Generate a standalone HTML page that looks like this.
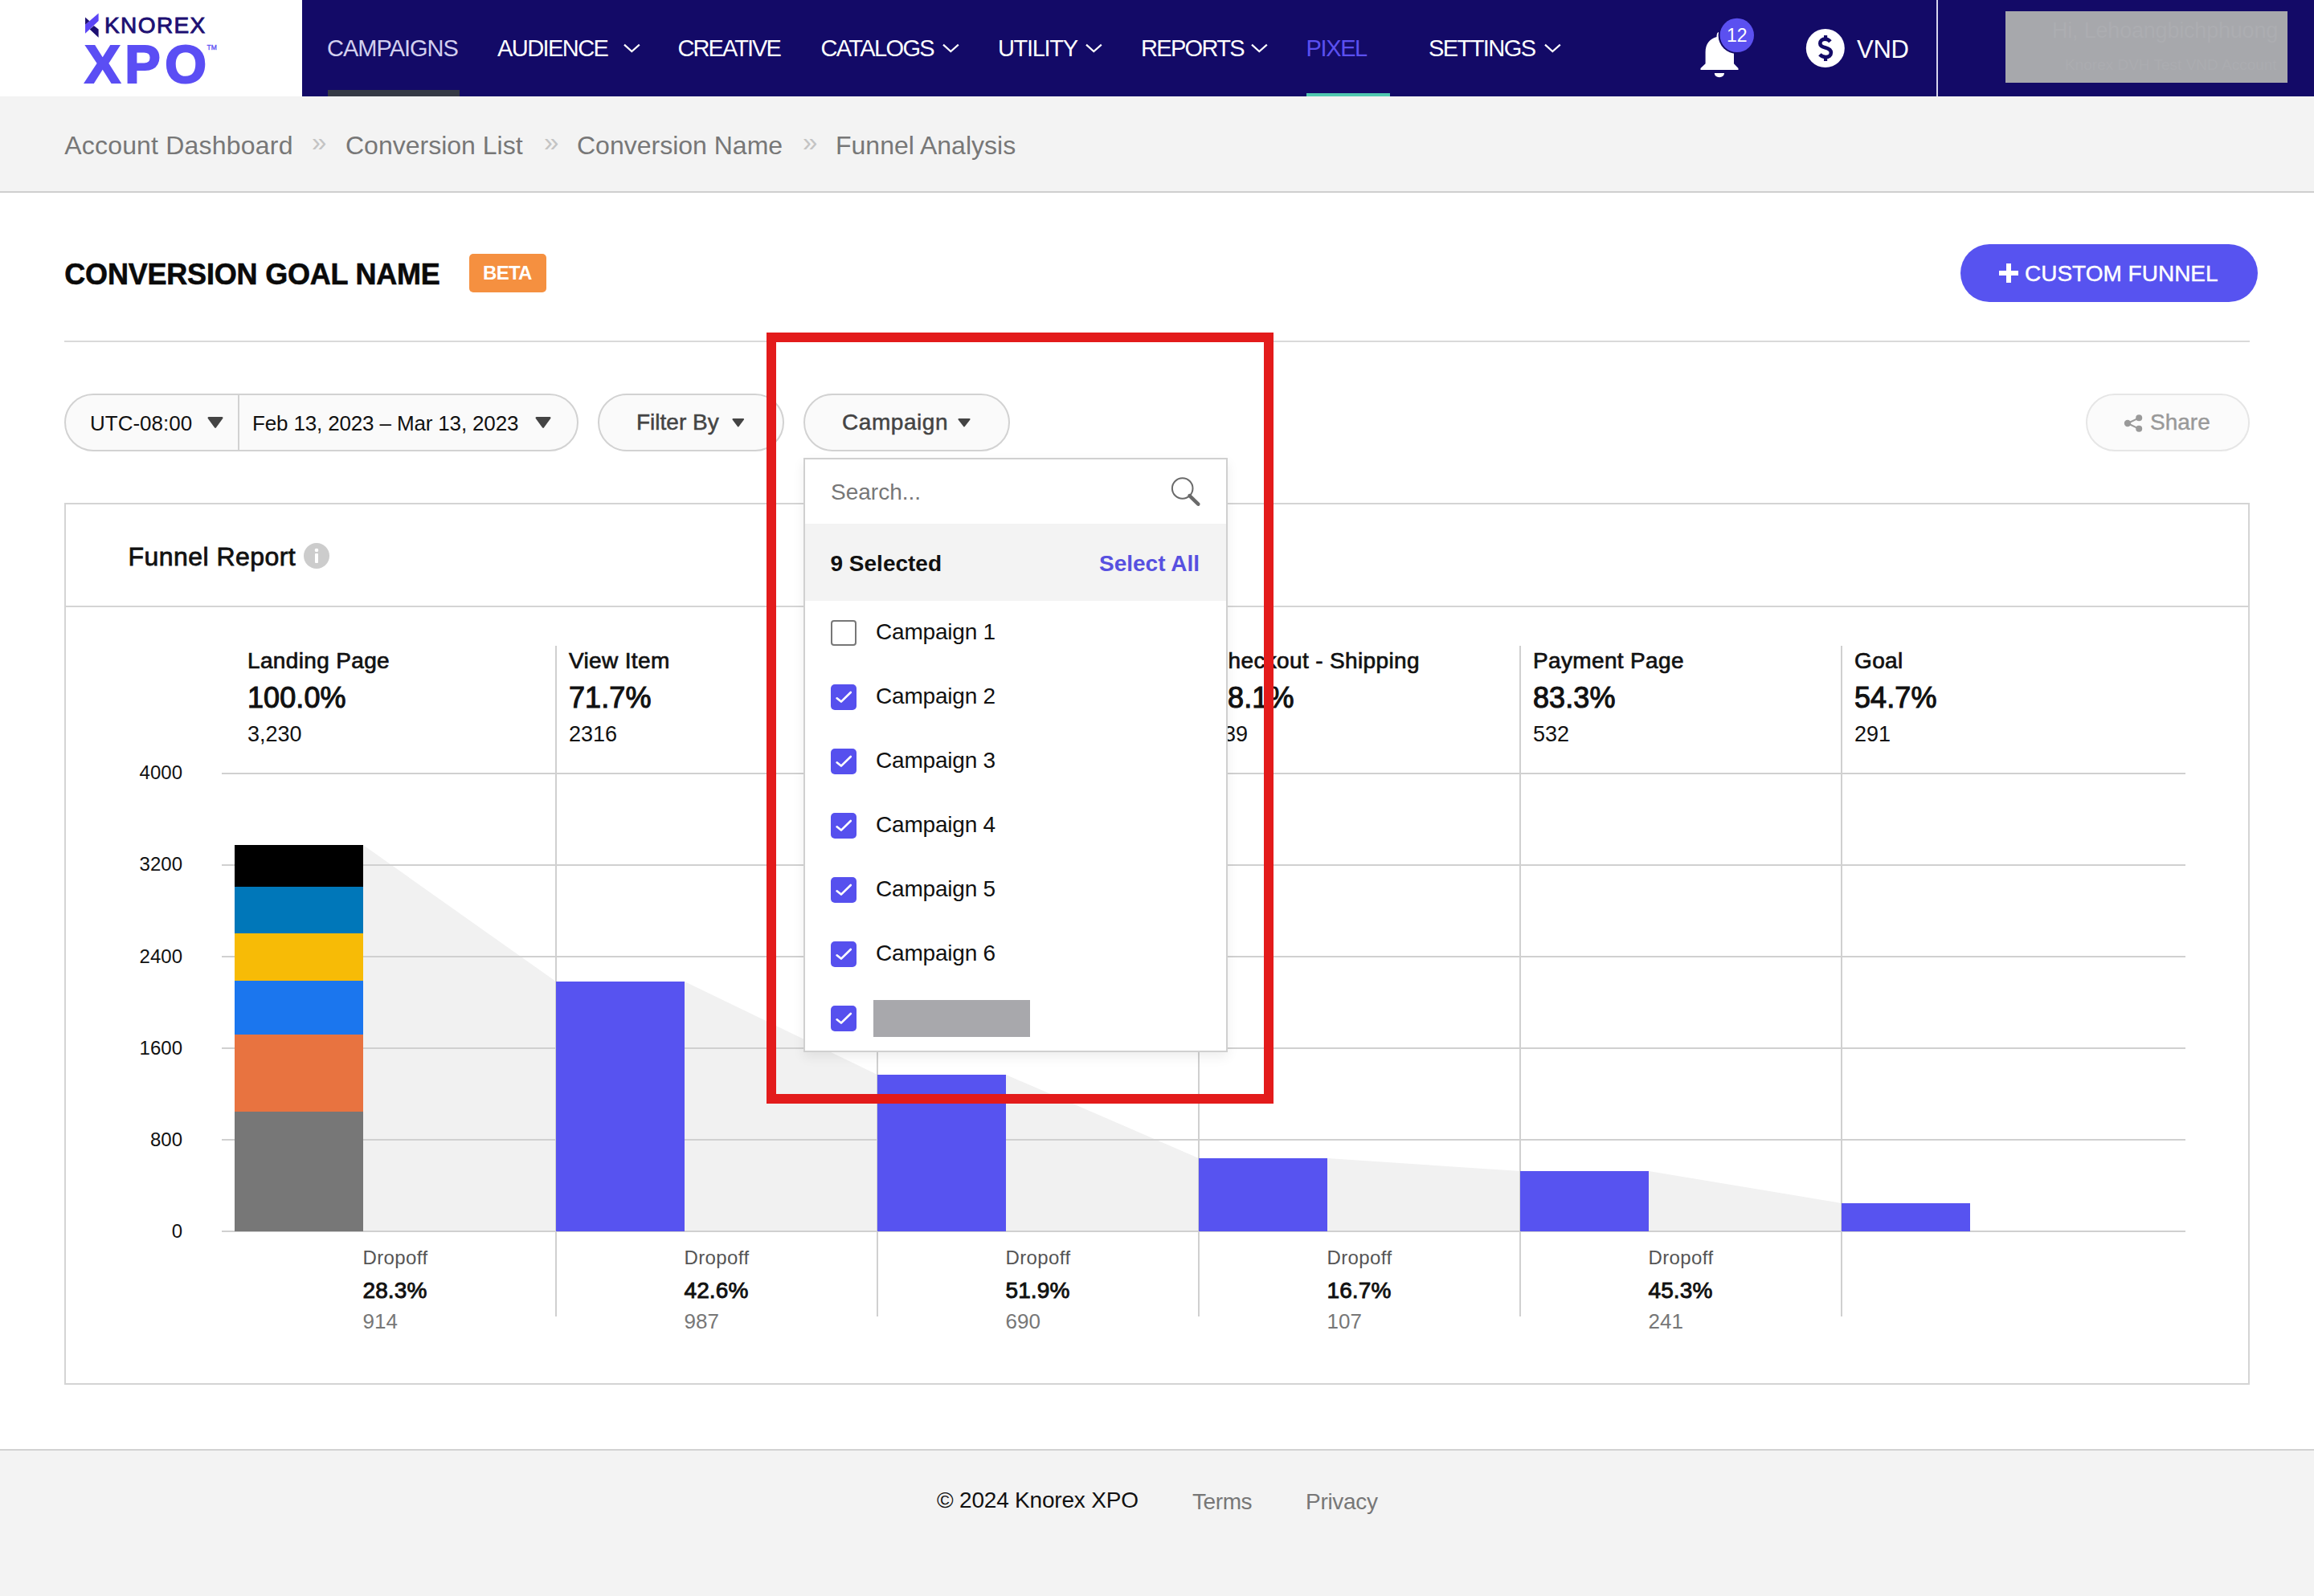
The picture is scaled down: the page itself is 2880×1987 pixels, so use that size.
<!DOCTYPE html>
<html><head><meta charset="utf-8"><title>Funnel Analysis</title>
<style>
html,body{margin:0;padding:0;width:2880px;height:1987px;overflow:hidden;background:#fff;}
body{position:relative;font-family:"Liberation Sans",sans-serif;}
.t{position:absolute;line-height:1;white-space:nowrap;}
.r{position:absolute;box-sizing:content-box;display:block;}
</style></head><body>
<div class="r" style="left:0px;top:0px;width:376px;height:120px;background:#ffffff;"></div>
<div class="r" style="left:376px;top:0px;width:2504px;height:120px;background:#130a67;"></div>
<svg class="r" style="left:100px;top:10px;" width="30" height="45" viewBox="0 0 30 45"><polygon points="6.05,20.74 22.64,6.4 22.64,15.9 6.05,31.8" fill="#5b45f6"/><polygon points="6.05,11.4 11.4,16.25 6.05,20.74" fill="#1d0f72"/><polygon points="11.75,26.6 16.9,21.95 22.64,26.6 22.64,36.8" fill="#1d0f72"/></svg>
<div class="t " style="left:130.0px;top:17.5px;font-size:28px;color:#1d0f72;font-weight:normal;letter-spacing:1.4px;-webkit-text-stroke:0.9px #1d0f72;">KNOREX</div>
<div class="t " style="left:105.5px;top:46.5px;font-size:66.5px;color:#5b4ef4;font-weight:bold;letter-spacing:5.5px;-webkit-text-stroke:2.2px #5b4ef4;">XPO</div>
<div class="t " style="left:257.5px;top:55.3px;font-size:8.5px;color:#5b4ef4;font-weight:normal;-webkit-text-stroke:0.3px #5b4ef4;">TM</div>
<div class="t " style="left:407.0px;top:46.4px;font-size:29px;color:#d2cfee;font-weight:normal;letter-spacing:-1px;">CAMPAIGNS</div>
<div class="t " style="left:619.0px;top:46.4px;font-size:29px;color:#fff;font-weight:normal;letter-spacing:-1.57px;">AUDIENCE</div>
<div class="t " style="left:843.5px;top:46.4px;font-size:29px;color:#fff;font-weight:normal;letter-spacing:-1.93px;">CREATIVE</div>
<div class="t " style="left:1021.5px;top:46.4px;font-size:29px;color:#fff;font-weight:normal;letter-spacing:-1.64px;">CATALOGS</div>
<div class="t " style="left:1242.0px;top:46.4px;font-size:29px;color:#fff;font-weight:normal;letter-spacing:-1.33px;">UTILITY</div>
<div class="t " style="left:1420.0px;top:46.4px;font-size:29px;color:#fff;font-weight:normal;letter-spacing:-1.67px;">REPORTS</div>
<div class="t " style="left:1625.6px;top:46.4px;font-size:29px;color:#5b50f0;font-weight:normal;letter-spacing:-1.4px;">PIXEL</div>
<div class="t " style="left:1778.0px;top:46.4px;font-size:29px;color:#fff;font-weight:normal;letter-spacing:-1.57px;">SETTINGS</div>
<svg class="r" style="left:774.6px;top:50px;" width="24" height="18" viewBox="0 0 24 18"><polyline points="2,5.6 11.3,14 20.8,5.6" fill="none" stroke="#fff" stroke-width="2.2"/></svg>
<svg class="r" style="left:1172px;top:50px;" width="24" height="18" viewBox="0 0 24 18"><polyline points="2,5.6 11.3,14 20.8,5.6" fill="none" stroke="#fff" stroke-width="2.2"/></svg>
<svg class="r" style="left:1350px;top:50px;" width="24" height="18" viewBox="0 0 24 18"><polyline points="2,5.6 11.3,14 20.8,5.6" fill="none" stroke="#fff" stroke-width="2.2"/></svg>
<svg class="r" style="left:1555.5px;top:50px;" width="24" height="18" viewBox="0 0 24 18"><polyline points="2,5.6 11.3,14 20.8,5.6" fill="none" stroke="#fff" stroke-width="2.2"/></svg>
<svg class="r" style="left:1920.6px;top:50px;" width="24" height="18" viewBox="0 0 24 18"><polyline points="2,5.6 11.3,14 20.8,5.6" fill="none" stroke="#fff" stroke-width="2.2"/></svg>
<div class="r" style="left:408px;top:112px;width:164px;height:8px;background:#353a45;"></div>
<div class="r" style="left:1626px;top:116px;width:104px;height:4px;background:#50c8b0;"></div>
<svg class="r" style="left:2116px;top:40px;" width="48" height="57" viewBox="0 0 48 57"><path d="M20.5,6 C20.5,2 21.5,0 23,0 C24.5,0 25.5,2 25.5,6 C35,8 42,15 42,25 L42,39.3 L47.5,45 L47.5,47 L0.5,47 L0.5,45 L6.6,39.3 L6.6,25 C6.6,15 12,8 20.5,6 Z" fill="#fff"/><path d="M17.8,51 L30,51 C30,54 27.5,56.2 23.9,56.2 C20.3,56.2 17.8,54 17.8,51 Z" fill="#fff"/></svg>
<svg class="r" style="left:2136px;top:18px;" width="52" height="52" viewBox="0 0 52 52"><circle cx="25.8" cy="25.9" r="23.2" fill="#130a67"/><circle cx="25.8" cy="25.9" r="21.2" fill="#5b50f0"/></svg>
<div class="t " style="left:2149.0px;top:32.5px;font-size:23px;color:#fff;font-weight:normal;">12</div>
<svg class="r" style="left:2247px;top:35px;" width="50" height="50" viewBox="0 0 50 50"><circle cx="24.8" cy="25" r="24" fill="#fff"/><path d="M31,16.8 C29,14.6 26.8,13.6 24.6,13.6 C20.6,13.6 18.3,15.9 18.3,18.9 C18.3,22.1 21,23.3 24.6,24.3 C28.6,25.4 31.9,26.9 31.9,30.6 C31.9,33.9 29,36.1 25.2,36.1 C22.3,36.1 19.7,34.9 17.9,32.8" fill="none" stroke="#130a67" stroke-width="4.6"/><rect x="23" y="9" width="4.2" height="5.6" fill="#130a67"/><rect x="23" y="35" width="4.2" height="6" fill="#130a67"/></svg>
<div class="t " style="left:2311.0px;top:45.7px;font-size:31px;color:#fff;font-weight:normal;letter-spacing:-0.3px;">VND</div>
<div class="r" style="left:2410px;top:0px;width:2px;height:120px;background:#d6d4ee;"></div>
<div class="r" style="left:2496px;top:14px;width:351px;height:89px;background:#a7a8ac;overflow:hidden;"><div class="t" style="left:58px;top:11px;font-size:27px;color:#acadb1;letter-spacing:-0.2px;">Hi, Lehoangbichphuong</div><div class="t" style="left:74px;top:57px;font-size:19px;color:#abacb0;">Knorex DVH Test VND Account</div></div>
<div class="r" style="left:0px;top:120px;width:2880px;height:118px;background:#f3f3f3;"></div>
<div class="r" style="left:0px;top:238px;width:2880px;height:2px;background:#cfcfcf;"></div>
<div class="t " style="left:80.2px;top:164.8px;font-size:32px;color:#777;font-weight:normal;letter-spacing:0.2px;">Account Dashboard</div>
<div class="t " style="left:430.0px;top:164.8px;font-size:32px;color:#777;font-weight:normal;letter-spacing:0px;">Conversion List</div>
<div class="t " style="left:718.0px;top:164.8px;font-size:32px;color:#777;font-weight:normal;letter-spacing:0px;">Conversion Name</div>
<div class="t " style="left:1040.0px;top:164.8px;font-size:32px;color:#777;font-weight:normal;letter-spacing:0px;">Funnel Analysis</div>
<div class="t " style="left:388.0px;top:160.4px;font-size:33px;color:#c4c4c4;font-weight:normal;">&raquo;</div>
<div class="t " style="left:677.0px;top:160.4px;font-size:33px;color:#c4c4c4;font-weight:normal;">&raquo;</div>
<div class="t " style="left:999.0px;top:160.4px;font-size:33px;color:#c4c4c4;font-weight:normal;">&raquo;</div>
<div class="t " style="left:80.3px;top:324.4px;font-size:36px;color:#0a0a0a;font-weight:bold;letter-spacing:-0.2px;-webkit-text-stroke:0.6px #0a0a0a;">CONVERSION GOAL NAME</div>
<div class="r" style="left:584px;top:316px;width:96px;height:48px;background:#f59040;border-radius:5px;"></div>
<div class="t " style="left:601.0px;top:328.3px;font-size:24px;color:#fff;font-weight:bold;letter-spacing:-0.7px;">BETA</div>
<div class="r" style="left:2440px;top:304px;width:370px;height:72px;background:#5753f0;border-radius:36px;"></div>
<div class="r" style="left:2497px;top:328px;width:6px;height:24px;background:#fff;"></div>
<div class="r" style="left:2488px;top:337px;width:24px;height:6px;background:#fff;"></div>
<div class="t " style="left:2520.0px;top:326.7px;font-size:28px;color:#fff;font-weight:normal;-webkit-text-stroke:0.4px #fff;">CUSTOM FUNNEL</div>
<div class="r" style="left:80px;top:424px;width:2720px;height:2px;background:#d9d9d9;"></div>
<div class="r" style="left:80px;top:490px;width:636px;height:68px;border:2px solid #d2d2d2;background:#fafafa;border-radius:36px;"></div>
<div class="r" style="left:296px;top:492px;width:2px;height:68px;background:#d2d2d2;"></div>
<div class="t " style="left:112.0px;top:513.9px;font-size:26px;color:#111;font-weight:normal;">UTC-08:00</div>
<svg class="r" style="left:257px;top:518px;" width="22" height="16" viewBox="0 0 22 16"><polygon points="2.82,2.3 19.18,2.3 11.0,13.57" fill="#444" stroke="#444" stroke-width="2.6" stroke-linejoin="round"/></svg>
<div class="t " style="left:314.0px;top:513.9px;font-size:26px;color:#111;font-weight:normal;letter-spacing:-0.15px;">Feb 13, 2023 &ndash; Mar 13, 2023</div>
<svg class="r" style="left:665px;top:518px;" width="22" height="16" viewBox="0 0 22 16"><polygon points="2.82,2.3 19.18,2.3 11.0,13.57" fill="#444" stroke="#444" stroke-width="2.6" stroke-linejoin="round"/></svg>
<div class="r" style="left:744px;top:490px;width:228px;height:68px;border:2px solid #d2d2d2;background:#fafafa;border-radius:36px;"></div>
<div class="t " style="left:792.0px;top:512.2px;font-size:28px;color:#444;font-weight:normal;-webkit-text-stroke:0.5px #444;">Filter By</div>
<svg class="r" style="left:909.5px;top:520px;" width="17.5" height="12.5" viewBox="0 0 17.5 12.5"><polygon points="2.4,2.0 15.1,2.0 8.75,10.4" fill="#444" stroke="#444" stroke-width="2.0" stroke-linejoin="round"/></svg>
<div class="r" style="left:1000px;top:490px;width:253px;height:68px;border:2px solid #d2d2d2;background:#fafafa;border-radius:36px;"></div>
<div class="t " style="left:1048.0px;top:512.2px;font-size:28px;color:#444;font-weight:normal;-webkit-text-stroke:0.5px #444;letter-spacing:0.55px;">Campaign</div>
<svg class="r" style="left:1191px;top:520px;" width="18" height="12.5" viewBox="0 0 18 12.5"><polygon points="2.4,2.0 15.6,2.0 9.0,10.4" fill="#444" stroke="#444" stroke-width="2.0" stroke-linejoin="round"/></svg>
<div class="r" style="left:2596px;top:490px;width:200px;height:68px;border:2px solid #e6e6e6;background:#fbfbfb;border-radius:36px;"></div>
<svg class="r" style="left:2643px;top:514px;" width="26" height="26" viewBox="0 0 26 26"><circle cx="5" cy="13" r="4.2" fill="#9a9a9a"/><circle cx="19.2" cy="6.3" r="4" fill="#9a9a9a"/><circle cx="19.2" cy="19.8" r="4" fill="#9a9a9a"/><line x1="5" y1="13" x2="19.2" y2="6.3" stroke="#9a9a9a" stroke-width="2"/><line x1="5" y1="13" x2="19.2" y2="19.8" stroke="#9a9a9a" stroke-width="2"/></svg>
<div class="t " style="left:2676.0px;top:512.2px;font-size:28px;color:#999;font-weight:normal;-webkit-text-stroke:0.4px #999;">Share</div>
<div class="r" style="left:80px;top:626px;width:2716px;height:1094px;border:2px solid #d4d4d4;background:#fff;"></div>
<div class="r" style="left:82px;top:754px;width:2716px;height:2px;background:#d4d4d4;"></div>
<div class="t " style="left:159.5px;top:677.2px;font-size:32px;color:#111;font-weight:normal;-webkit-text-stroke:0.8px #111;letter-spacing:0.45px;">Funnel Report</div>
<svg class="r" style="left:378px;top:676px;" width="32" height="32" viewBox="0 0 32 32"><circle cx="16" cy="16" r="16" fill="#cccccc"/><circle cx="16" cy="9" r="2.3" fill="#fff"/><rect x="14" y="13" width="4" height="12" rx="1" fill="#fff"/></svg>
<svg class="r" style="left:0px;top:0px;" width="2880" height="1987" viewBox="0 0 2880 1987"><polygon points="452,1052 692,1222 692,1533 452,1533" fill="#f1f1f1"/><polygon points="852,1222 1092,1338 1092,1533 852,1533" fill="#f1f1f1"/><polygon points="1252,1338 1492,1442 1492,1533 1252,1533" fill="#f1f1f1"/><polygon points="1652,1442 1892,1458 1892,1533 1652,1533" fill="#f1f1f1"/><polygon points="2052,1458 2292,1498 2292,1533 2052,1533" fill="#f1f1f1"/></svg>
<div class="r" style="left:276px;top:962px;width:2444px;height:2px;background:#d0d0d0;"></div>
<div class="t" style="right:2653.0px;top:950.3px;font-size:24px;color:#111;font-weight:normal;text-align:right;">4000</div>
<div class="r" style="left:276px;top:1076px;width:2444px;height:2px;background:#d0d0d0;"></div>
<div class="t" style="right:2653.0px;top:1064.4px;font-size:24px;color:#111;font-weight:normal;text-align:right;">3200</div>
<div class="r" style="left:276px;top:1190px;width:2444px;height:2px;background:#d0d0d0;"></div>
<div class="t" style="right:2653.0px;top:1178.5px;font-size:24px;color:#111;font-weight:normal;text-align:right;">2400</div>
<div class="r" style="left:276px;top:1304px;width:2444px;height:2px;background:#d0d0d0;"></div>
<div class="t" style="right:2653.0px;top:1292.6px;font-size:24px;color:#111;font-weight:normal;text-align:right;">1600</div>
<div class="r" style="left:276px;top:1418px;width:2444px;height:2px;background:#d0d0d0;"></div>
<div class="t" style="right:2653.0px;top:1406.7px;font-size:24px;color:#111;font-weight:normal;text-align:right;">800</div>
<div class="r" style="left:276px;top:1532px;width:2444px;height:2px;background:#d0d0d0;"></div>
<div class="t" style="right:2653.0px;top:1520.8px;font-size:24px;color:#111;font-weight:normal;text-align:right;">0</div>
<div class="r" style="left:691px;top:804px;width:2px;height:835px;background:#d0d0d0;"></div>
<div class="r" style="left:1091px;top:804px;width:2px;height:835px;background:#d0d0d0;"></div>
<div class="r" style="left:1491px;top:804px;width:2px;height:835px;background:#d0d0d0;"></div>
<div class="r" style="left:1891px;top:804px;width:2px;height:835px;background:#d0d0d0;"></div>
<div class="r" style="left:2291px;top:804px;width:2px;height:835px;background:#d0d0d0;"></div>
<div class="t " style="left:308.0px;top:808.5px;font-size:28px;color:#111;font-weight:normal;-webkit-text-stroke:0.7px #111;letter-spacing:0.35px;">Landing Page</div>
<div class="t " style="left:308.0px;top:851.4px;font-size:36px;color:#111;font-weight:normal;-webkit-text-stroke:1.1px #111;letter-spacing:0.1px;">100.0%</div>
<div class="t " style="left:308.0px;top:901.0px;font-size:27px;color:#111;font-weight:normal;">3,230</div>
<div class="t " style="left:708.0px;top:808.5px;font-size:28px;color:#111;font-weight:normal;-webkit-text-stroke:0.7px #111;letter-spacing:0.35px;">View Item</div>
<div class="t " style="left:708.0px;top:851.4px;font-size:36px;color:#111;font-weight:normal;-webkit-text-stroke:1.1px #111;letter-spacing:0.1px;">71.7%</div>
<div class="t " style="left:708.0px;top:901.0px;font-size:27px;color:#111;font-weight:normal;">2316</div>
<div class="t " style="left:1108.0px;top:808.5px;font-size:28px;color:#111;font-weight:normal;-webkit-text-stroke:0.7px #111;letter-spacing:0.35px;">Add to Cart</div>
<div class="t " style="left:1108.0px;top:851.4px;font-size:36px;color:#111;font-weight:normal;-webkit-text-stroke:1.1px #111;letter-spacing:0.1px;">58.3%</div>
<div class="t " style="left:1108.0px;top:901.0px;font-size:27px;color:#111;font-weight:normal;">1329</div>
<div class="t " style="left:1508.0px;top:808.5px;font-size:28px;color:#111;font-weight:normal;-webkit-text-stroke:0.7px #111;letter-spacing:0.35px;">Checkout - Shipping</div>
<div class="t " style="left:1508.0px;top:851.4px;font-size:36px;color:#111;font-weight:normal;-webkit-text-stroke:1.1px #111;letter-spacing:0.1px;">48.1%</div>
<div class="t " style="left:1508.0px;top:901.0px;font-size:27px;color:#111;font-weight:normal;">639</div>
<div class="t " style="left:1908.0px;top:808.5px;font-size:28px;color:#111;font-weight:normal;-webkit-text-stroke:0.7px #111;letter-spacing:0.35px;">Payment Page</div>
<div class="t " style="left:1908.0px;top:851.4px;font-size:36px;color:#111;font-weight:normal;-webkit-text-stroke:1.1px #111;letter-spacing:0.1px;">83.3%</div>
<div class="t " style="left:1908.0px;top:901.0px;font-size:27px;color:#111;font-weight:normal;">532</div>
<div class="t " style="left:2308.0px;top:808.5px;font-size:28px;color:#111;font-weight:normal;-webkit-text-stroke:0.7px #111;letter-spacing:0.35px;">Goal</div>
<div class="t " style="left:2308.0px;top:851.4px;font-size:36px;color:#111;font-weight:normal;-webkit-text-stroke:1.1px #111;letter-spacing:0.1px;">54.7%</div>
<div class="t " style="left:2308.0px;top:901.0px;font-size:27px;color:#111;font-weight:normal;">291</div>
<div class="r" style="left:292px;top:1052px;width:160px;height:52px;background:#000000;"></div>
<div class="r" style="left:292px;top:1104px;width:160px;height:58px;background:#0077b9;"></div>
<div class="r" style="left:292px;top:1162px;width:160px;height:59px;background:#f7bb06;"></div>
<div class="r" style="left:292px;top:1221px;width:160px;height:67px;background:#1b76ee;"></div>
<div class="r" style="left:292px;top:1288px;width:160px;height:96px;background:#e87340;"></div>
<div class="r" style="left:292px;top:1384px;width:160px;height:149px;background:#777777;"></div>
<div class="r" style="left:692px;top:1222px;width:160px;height:311px;background:#5753f0;"></div>
<div class="r" style="left:1092px;top:1338px;width:160px;height:195px;background:#5753f0;"></div>
<div class="r" style="left:1492px;top:1442px;width:160px;height:91px;background:#5753f0;"></div>
<div class="r" style="left:1892px;top:1458px;width:160px;height:75px;background:#5753f0;"></div>
<div class="r" style="left:2292px;top:1498px;width:160px;height:35px;background:#5753f0;"></div>
<div class="t " style="left:451.5px;top:1554.4px;font-size:24px;color:#555;font-weight:normal;letter-spacing:0.4px;">Dropoff</div>
<div class="t " style="left:451.5px;top:1593.2px;font-size:28px;color:#111;font-weight:normal;-webkit-text-stroke:0.9px #111;letter-spacing:0.1px;">28.3%</div>
<div class="t " style="left:451.5px;top:1632.2px;font-size:26px;color:#777;font-weight:normal;">914</div>
<div class="t " style="left:851.5px;top:1554.4px;font-size:24px;color:#555;font-weight:normal;letter-spacing:0.4px;">Dropoff</div>
<div class="t " style="left:851.5px;top:1593.2px;font-size:28px;color:#111;font-weight:normal;-webkit-text-stroke:0.9px #111;letter-spacing:0.1px;">42.6%</div>
<div class="t " style="left:851.5px;top:1632.2px;font-size:26px;color:#777;font-weight:normal;">987</div>
<div class="t " style="left:1251.5px;top:1554.4px;font-size:24px;color:#555;font-weight:normal;letter-spacing:0.4px;">Dropoff</div>
<div class="t " style="left:1251.5px;top:1593.2px;font-size:28px;color:#111;font-weight:normal;-webkit-text-stroke:0.9px #111;letter-spacing:0.1px;">51.9%</div>
<div class="t " style="left:1251.5px;top:1632.2px;font-size:26px;color:#777;font-weight:normal;">690</div>
<div class="t " style="left:1651.5px;top:1554.4px;font-size:24px;color:#555;font-weight:normal;letter-spacing:0.4px;">Dropoff</div>
<div class="t " style="left:1651.5px;top:1593.2px;font-size:28px;color:#111;font-weight:normal;-webkit-text-stroke:0.9px #111;letter-spacing:0.1px;">16.7%</div>
<div class="t " style="left:1651.5px;top:1632.2px;font-size:26px;color:#777;font-weight:normal;">107</div>
<div class="t " style="left:2051.5px;top:1554.4px;font-size:24px;color:#555;font-weight:normal;letter-spacing:0.4px;">Dropoff</div>
<div class="t " style="left:2051.5px;top:1593.2px;font-size:28px;color:#111;font-weight:normal;-webkit-text-stroke:0.9px #111;letter-spacing:0.1px;">45.3%</div>
<div class="t " style="left:2051.5px;top:1632.2px;font-size:26px;color:#777;font-weight:normal;">241</div>
<div class="r" style="left:0px;top:1804px;width:2880px;height:2px;background:#d2d2d2;"></div>
<div class="r" style="left:0px;top:1806px;width:2880px;height:181px;background:#f3f3f3;"></div>
<div class="t " style="left:1166.0px;top:1854.2px;font-size:28px;color:#111;font-weight:normal;letter-spacing:-0.2px;">&copy; 2024 Knorex XPO</div>
<div class="t " style="left:1484.0px;top:1855.7px;font-size:28px;color:#777;font-weight:normal;letter-spacing:-0.4px;">Terms</div>
<div class="t " style="left:1625.0px;top:1855.7px;font-size:28px;color:#777;font-weight:normal;letter-spacing:-0.3px;">Privacy</div>
<div class="r" style="left:1000px;top:570px;width:524px;height:736px;border:2px solid #d0d0d0;background:#fff;box-shadow:0 6px 14px rgba(0,0,0,0.07);"></div>
<div class="t " style="left:1034.0px;top:598.5px;font-size:28px;color:#777;font-weight:normal;">Search...</div>
<svg class="r" style="left:1450px;top:588px;" width="50" height="50" viewBox="0 0 50 50"><circle cx="21.7" cy="20" r="12.8" fill="none" stroke="#6a6a6a" stroke-width="2"/><line x1="30.5" y1="29.2" x2="41.3" y2="39.6" stroke="#6a6a6a" stroke-width="4.6" stroke-linecap="round"/></svg>
<div class="r" style="left:1002px;top:652px;width:524px;height:96px;background:#f3f3f3;"></div>
<div class="t " style="left:1033.5px;top:687.8px;font-size:28px;color:#111;font-weight:bold;">9 Selected</div>
<div class="t " style="left:1368.0px;top:687.8px;font-size:28px;color:#5750e0;font-weight:bold;">Select All</div>
<div class="r" style="left:1034px;top:772px;width:28px;height:28px;border:2px solid #777;border-radius:4px;background:#fff;"></div>
<div class="t " style="left:1090.0px;top:772.5px;font-size:28px;color:#111;font-weight:normal;letter-spacing:-0.2px;">Campaign 1</div>
<svg class="r" style="left:1034px;top:852px;" width="32" height="32" viewBox="0 0 32 32"><rect x="0" y="0" width="32" height="32" rx="5" fill="#5650ee"/><polyline points="7.6,17.3 12.9,21.6 24.8,10" fill="none" stroke="#fff" stroke-width="2.6" stroke-linecap="round" stroke-linejoin="round"/></svg>
<div class="t " style="left:1090.0px;top:852.5px;font-size:28px;color:#111;font-weight:normal;letter-spacing:-0.2px;">Campaign 2</div>
<svg class="r" style="left:1034px;top:932px;" width="32" height="32" viewBox="0 0 32 32"><rect x="0" y="0" width="32" height="32" rx="5" fill="#5650ee"/><polyline points="7.6,17.3 12.9,21.6 24.8,10" fill="none" stroke="#fff" stroke-width="2.6" stroke-linecap="round" stroke-linejoin="round"/></svg>
<div class="t " style="left:1090.0px;top:932.5px;font-size:28px;color:#111;font-weight:normal;letter-spacing:-0.2px;">Campaign 3</div>
<svg class="r" style="left:1034px;top:1012px;" width="32" height="32" viewBox="0 0 32 32"><rect x="0" y="0" width="32" height="32" rx="5" fill="#5650ee"/><polyline points="7.6,17.3 12.9,21.6 24.8,10" fill="none" stroke="#fff" stroke-width="2.6" stroke-linecap="round" stroke-linejoin="round"/></svg>
<div class="t " style="left:1090.0px;top:1012.5px;font-size:28px;color:#111;font-weight:normal;letter-spacing:-0.2px;">Campaign 4</div>
<svg class="r" style="left:1034px;top:1092px;" width="32" height="32" viewBox="0 0 32 32"><rect x="0" y="0" width="32" height="32" rx="5" fill="#5650ee"/><polyline points="7.6,17.3 12.9,21.6 24.8,10" fill="none" stroke="#fff" stroke-width="2.6" stroke-linecap="round" stroke-linejoin="round"/></svg>
<div class="t " style="left:1090.0px;top:1092.5px;font-size:28px;color:#111;font-weight:normal;letter-spacing:-0.2px;">Campaign 5</div>
<svg class="r" style="left:1034px;top:1172px;" width="32" height="32" viewBox="0 0 32 32"><rect x="0" y="0" width="32" height="32" rx="5" fill="#5650ee"/><polyline points="7.6,17.3 12.9,21.6 24.8,10" fill="none" stroke="#fff" stroke-width="2.6" stroke-linecap="round" stroke-linejoin="round"/></svg>
<div class="t " style="left:1090.0px;top:1172.5px;font-size:28px;color:#111;font-weight:normal;letter-spacing:-0.2px;">Campaign 6</div>
<svg class="r" style="left:1034px;top:1252px;" width="32" height="32" viewBox="0 0 32 32"><rect x="0" y="0" width="32" height="32" rx="5" fill="#5650ee"/><polyline points="7.6,17.3 12.9,21.6 24.8,10" fill="none" stroke="#fff" stroke-width="2.6" stroke-linecap="round" stroke-linejoin="round"/></svg>
<div class="r" style="left:1087px;top:1245px;width:195px;height:46px;background:#a8a8ac;"></div>
<div class="r" style="left:954px;top:414px;width:607px;height:936px;border:12px solid #e31b1b;"></div>
</body></html>
